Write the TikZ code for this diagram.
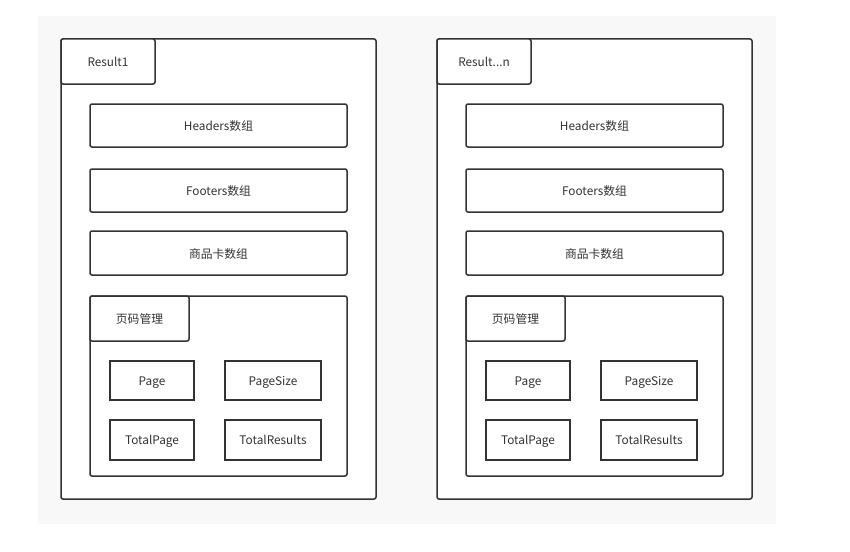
\documentclass[tikz,border=0pt]{standalone}
\usepackage{fontspec}
\setmainfont{Noto Sans CJK SC}
\definecolor{bgc}{HTML}{F8F8F8}
\definecolor{ln}{HTML}{333333}
\definecolor{tx}{HTML}{333333}
\newcommand\mypanel[3]{%
  \begin{scope}[xshift=#1]
    \draw[frame] (61,39) rectangle (376,499);
    \draw[frame] (61,39) rectangle (155,84);
    \node[lbl] (#3t) at (108,62) {#2};
    \draw[frame] (90,104) rectangle (347,147);
    \node[lbl] (#3h) at (218.5,126) {Headers数组};
    \draw[frame] (90,169) rectangle (347,212);
    \node[lbl] (#3f) at (218.5,191) {Footers数组};
    \draw[frame] (90,231) rectangle (347,275);
    \node[lbl] (#3g) at (218.5,254) {商品卡数组};
    \draw[frame] (90,296) rectangle (347,476);
    \draw[frame] (90,296) rectangle (189,341);
    \node[lbl] (#3m) at (139.5,319) {页码管理};
    \draw[sq] (110,361) rectangle (194,400);
    \node[lbl] (#3a) at (152,381) {Page};
    \draw[sq] (225,361) rectangle (321,400);
    \node[lbl] (#3b) at (273,381) {PageSize};
    \draw[sq] (110,420) rectangle (194,460);
    \node[lbl] (#3c) at (152,440.5) {TotalPage};
    \draw[sq] (225,420) rectangle (321,460);
    \node[lbl] (#3d) at (273,440.5) {TotalResults};
  \end{scope}}
\begin{document}
\begin{tikzpicture}[x=1pt,y=-1pt,
  frame/.style={draw=ln,line width=1.5pt,rounded corners=2pt,fill=white},
  sq/.style={draw=ln,line width=1.5pt,fill=white},
  lbl/.style={text=tx,font=\fontsize{11.8}{14}\selectfont,inner sep=0pt,text height=9pt,text depth=0.5pt}]
\useasboundingbox (0,0) rectangle (850,551);
\fill[bgc] (38,16) rectangle (776,524);
\mypanel{0}{Result1}{p}
\mypanel{376}{Result...n}{q}
\end{tikzpicture}
\end{document}
